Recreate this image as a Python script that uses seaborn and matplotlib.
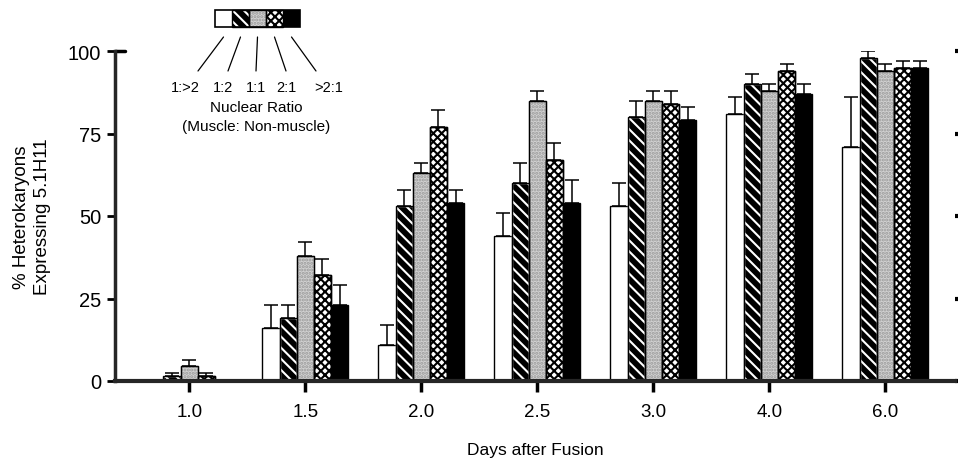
import matplotlib
matplotlib.use("Agg")
import matplotlib.pyplot as plt
import numpy as np
import pandas as pd
import seaborn as sns
from matplotlib.patches import Rectangle

# data
days = ["1.0", "1.5", "2.0", "2.5", "3.0", "4.0", "6.0"]
ratios = ["1:>2", "1:2", "1:1", "2:1", ">2:1"]

pct_1_gt2 = [0, 16, 11, 44, 53, 81, 71]
pct_1_2 = [1.5, 19, 53, 60, 80, 90, 98]
pct_1_1 = [4.5, 38, 63, 85, 85, 88, 94]
pct_2_1 = [1.5, 32, 77, 67, 84, 94, 95]
pct_gt2_1 = [0, 23, 54, 54, 79, 87, 95]

err_1_gt2 = [0, 7, 6, 7, 7, 5, 15]
err_1_2 = [1, 4, 5, 6, 5, 3, 2]
err_1_1 = [2, 4, 3, 3, 3, 2, 2]
err_2_1 = [1, 5, 5, 5, 4, 2, 2]
err_gt2_1 = [0, 6, 4, 7, 4, 3, 2]

values = [pct_1_gt2, pct_1_2, pct_1_1, pct_2_1, pct_gt2_1]
errors = [err_1_gt2, err_1_2, err_1_1, err_2_1, err_gt2_1]

df = pd.DataFrame({
    "day": np.tile(days, len(ratios)),
    "ratio": np.repeat(ratios, len(days)),
    "pct": np.concatenate(values),
    "err": np.concatenate(errors),
})

sns.set_style("ticks")
plt.rcParams["font.family"] = ["Liberation Sans", "DejaVu Sans"]
plt.rcParams["text.color"] = "black"
plt.rcParams["axes.labelcolor"] = "black"
plt.rcParams["xtick.color"] = "black"
plt.rcParams["ytick.color"] = "black"
plt.rcParams["hatch.linewidth"] = 1.5

# fill / hatch per ratio class
styles = {
    "1:>2": dict(fc="white", hc=None, hatch=None),
    "1:2": dict(fc="black", hc="white", hatch="\\\\\\"),
    "1:1": dict(fc="#d2d2d2", hc="#9a9a9a", hatch="....."),
    "2:1": dict(fc="white", hc="black", hatch="xxxx"),
    ">2:1": dict(fc="black", hc=None, hatch=None),
}


def style_bar(target, ratio, host):
    st = styles[ratio]
    target.set_facecolor(st["fc"])
    if st["hatch"]:
        target.set_hatch(st["hatch"])
        target.set_edgecolor(st["hc"])
        # black outline on top of the hatch
        ol = Rectangle(target.get_xy(), target.get_width(), target.get_height(),
                       fill=False, edgecolor="black", linewidth=1,
                       zorder=target.get_zorder() + 0.1)
        host.add_patch(ol)
    else:
        target.set_edgecolor("black")


fig = plt.figure(figsize=(9.59, 4.60), dpi=100)
ax = fig.add_axes([115 / 959, 1 - 382 / 460, 840 / 959, 330 / 460])

sns.barplot(data=df, x="day", y="pct", hue="ratio", order=days,
            hue_order=ratios, errorbar=None, width=0.74, gap=0,
            palette=["white"] * 5, edgecolor="black", linewidth=1,
            legend=False, ax=ax)

bars = [p for p in ax.patches if isinstance(p, Rectangle)][:len(df)]

for bar, (_, row) in zip(bars, df.iterrows()):
    if row["pct"] <= 0:
        bar.set_visible(False)
        continue
    style_bar(bar, row["ratio"], ax)
    cx = bar.get_x() + bar.get_width() / 2
    ax.errorbar(cx, row["pct"], yerr=[[0], [row["err"]]], fmt="none",
                ecolor="black", elinewidth=1.1, capsize=5, capthick=1.1, zorder=5)

ax.set_xlim(-0.64, 6.6)
ax.set_ylim(0, 100)
ax.set_yticks([0, 25, 50, 75, 100])
ax.tick_params(axis="y", direction="out", length=6, width=2, labelsize=14.5,
               pad=4, right=True)
ax.tick_params(axis="x", direction="out", length=8, width=2.5, labelsize=13.5, pad=8)
for t in ax.yaxis.get_ticklines()[1::2]:
    t.set_markersize(2)
    t.set_markeredgewidth(3)
sns.despine(ax=ax, top=True, right=True)
ax.spines["left"].set_linewidth(2.5)
ax.spines["bottom"].set_linewidth(3)
ax.axhline(100, xmin=0, xmax=0.012, color="black", lw=2.5, clip_on=False)
ax.set_xlabel("Days after Fusion", fontsize=12.5, labelpad=16)
ax.set_ylabel("% Heterokaryons\nExpressing 5.1H11", fontsize=13.5, labelpad=12,
              linespacing=1.35)

# key in the top-left corner
key = fig.add_axes([0, 0, 1, 1])
key.set_xlim(0, 959)
key.set_ylim(460, 0)
key.axis("off")
kx0, kw, ky0, kh = 215, 17, 11, 17
key_x = [kx0 + i * kw for i in range(len(ratios))]
label_x = [185, 223, 256, 286, 329]
line_end = [198, 228, 256, 286, 316]
for i, ratio in enumerate(ratios):
    r = Rectangle((key_x[i], ky0), kw, kh, linewidth=0)
    key.add_patch(r)
    style_bar(r, ratio, key)
    key.plot([key_x[i] + kw / 2, line_end[i]], [ky0 + kh + 10, 72],
             color="black", lw=0.9)
    key.text(label_x[i], 88, ratio, ha="center", va="center", fontsize=10.5)
key.add_patch(Rectangle((kx0, ky0), kw * 5, kh, fill=False, edgecolor="black", lw=1.2))
key.text(256, 108, "Nuclear Ratio", ha="center", va="center", fontsize=11)
key.text(256, 127, "(Muscle: Non-muscle)", ha="center", va="center", fontsize=11)

fig.savefig("out.png", dpi=100)
